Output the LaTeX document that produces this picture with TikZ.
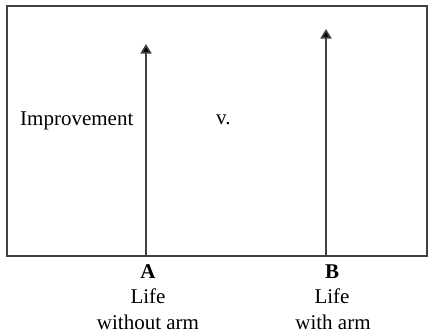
\documentclass[tikz,border=0pt]{standalone}
\usepackage{fontspec}
\setmainfont{Liberation Serif}
\usetikzlibrary{arrows.meta}
\begin{document}
\begin{tikzpicture}[x=1pt,y=1pt,
  frame/.style={draw=black!75, line width=1.5pt},
  axisarrow/.style={draw=black!75, line width=1.6pt, -{Triangle[width=11pt,length=9.5pt,fill=black]}},
  lbl/.style={inner sep=0pt, font=\fontsize{21}{25}\selectfont}]
\useasboundingbox (0,0) rectangle (428,333);
\draw[frame] (7,77) rectangle (427,327);
\coordinate (a0) at (146,77);
\coordinate (a1) at (146,289);
\coordinate (b0) at (326,77);
\coordinate (b1) at (326,304);
\draw[axisarrow] (a0) -- (a1);
\draw[axisarrow] (b0) -- (b1);
\node[lbl, anchor=base west] (imp) at (20,208) {Improvement};
\node[lbl, anchor=base west] (vs) at (216,208.5) {v.};
\node[lbl, anchor=base] (la) at (148,55) {\textbf{A}};
\node[lbl, anchor=base] (la2) at (148,29.5) {Life};
\node[lbl, anchor=base] (la3) at (148,4) {without arm};
\node[lbl, anchor=base] (lb) at (332,55) {\textbf{B}};
\node[lbl, anchor=base] (lb2) at (332,29.5) {Life};
\node[lbl, anchor=base] (lb3) at (333,4) {with arm};
\end{tikzpicture}
\end{document}
